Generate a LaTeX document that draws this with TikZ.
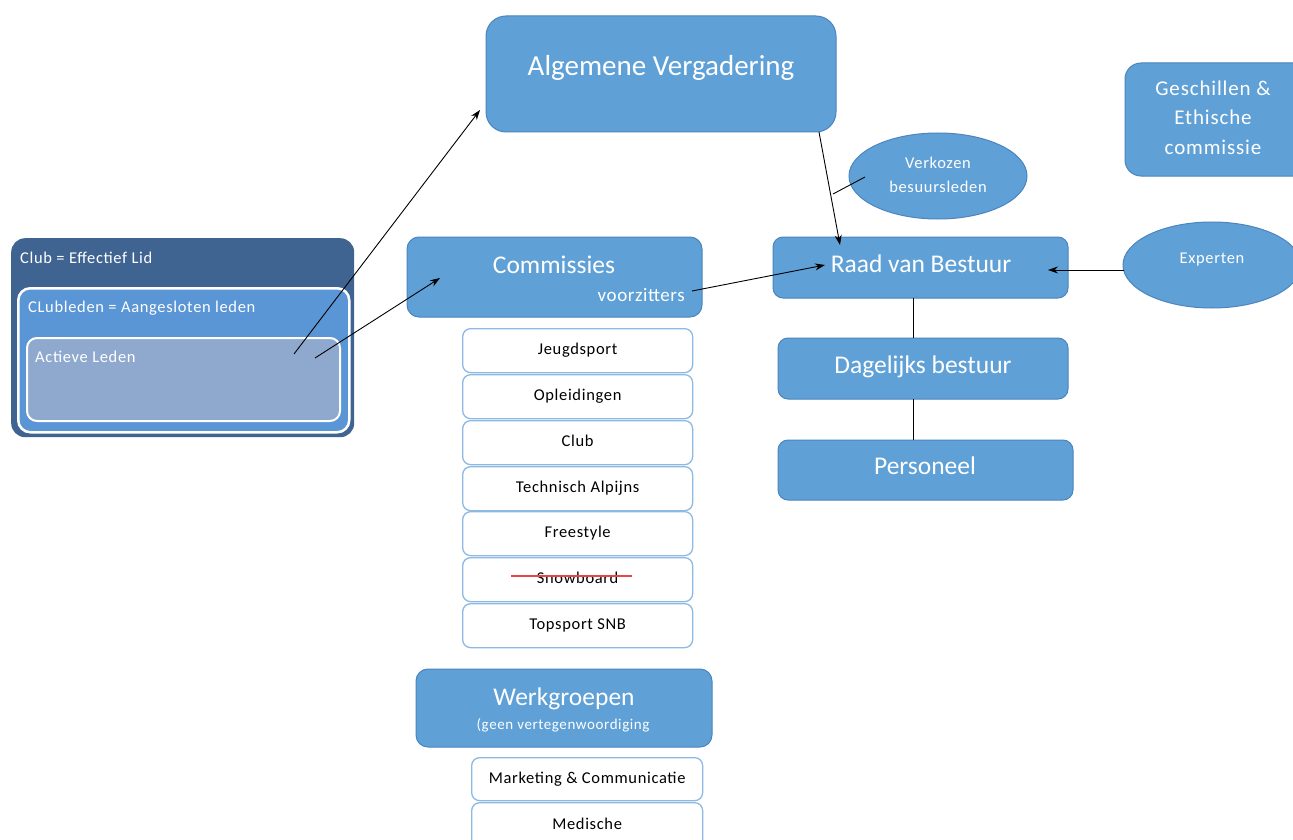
\documentclass[tikz,border=0pt]{standalone}
\usepackage{fontspec}
\setmainfont{Carlito}
\newfontfamily\widefont{Carlito}[LetterSpace=4]
\newfontfamily\midfont{Carlito}[LetterSpace=3]
\usetikzlibrary{arrows.meta,shapes.geometric}
\definecolor{bfill}{HTML}{5FA0D6}
\definecolor{bdraw}{HTML}{4A85BD}
\definecolor{clubdark}{HTML}{406491}
\definecolor{clubmid}{HTML}{5A95D6}
\definecolor{clublight}{HTML}{8FA9CE}
\definecolor{iborder}{HTML}{8DB9E5}
\definecolor{strikered}{HTML}{E8474A}
\begin{document}
\begin{tikzpicture}[x=1pt,y=-1pt,
  box/.style={draw=bdraw, fill=bfill, rounded corners=14, line width=1, anchor=north west, inner sep=0, outer sep=0},
  oval/.style={ellipse, draw=bdraw, fill=bfill, line width=1, inner sep=0, outer sep=0, minimum width=178, minimum height=86},
  smallf/.style={font=\widefont\fontsize{16.5}{19}\selectfont},
  item/.style={draw=iborder, fill=white, rounded corners=8, line width=1.3, anchor=north west, minimum width=230, minimum height=44, inner sep=0, smallf, text=black, text height=11, text depth=3},
  wt/.style={text=white, inner sep=0, anchor=base},
  wtl/.style={text=white, inner sep=0, anchor=base west, smallf},
  arr/.style={-{Stealth[length=10,width=7]}, line width=0.9},
  ln/.style={line width=0.9},
]
\useasboundingbox (0,0) rectangle (1293,840);
\fill[white] (0,0) rectangle (1293,840);

% Club
\node[anchor=north west, fill=clubdark, rounded corners=14, minimum width=343, minimum height=199, inner sep=0] (club) at (11,238) {};
\node[anchor=north west, fill=clubmid, draw=white, line width=2.5, rounded corners=12, minimum width=331, minimum height=144, inner sep=0] (clubleden) at (17,287) {};
\node[anchor=north west, fill=clublight, draw=white, line width=2, rounded corners=10, minimum width=313, minimum height=83, inner sep=0] (actieve) at (26,337) {};
\node[wtl] (clubt) at (20,263) {Club = Effectief Lid};
\node[wtl] (cldt) at (28,312) {CLubleden = Aangesloten leden};
\node[wtl] (actt) at (35,362) {Actieve Leden};

% Algemene Vergadering
\node[box, rounded corners=20, minimum width=350, minimum height=116] (av) at (486,16) {};
\node[wt, font=\fontsize{29}{34}\selectfont] (avt) at (661,76) {Algemene Vergadering};

% Geschillen
\node[box, rounded corners=16, minimum width=200, minimum height=113] (ges) at (1125,63) {};
\node[text=white, inner sep=0, anchor=base, font=\widefont\fontsize{21}{24}\selectfont] (ges1) at (1213,96) {Geschillen \&};
\node[text=white, inner sep=0, anchor=base, font=\widefont\fontsize{21}{24}\selectfont] (ges2) at (1213,125) {Ethische};
\node[text=white, inner sep=0, anchor=base, font=\widefont\fontsize{21}{24}\selectfont] (ges3) at (1213,154) {commissie};

% Ellipses
\node[oval] (verk) at (938,176) {};
\node[wt, smallf] (verk1) at (938,168) {Verkozen};
\node[wt, smallf] (verk2) at (938,192) {besuursleden};
\node[oval] (exp) at (1212,265) {};
\node[wt, smallf] (expt) at (1212,263) {Experten};

% Right column
\node[box, rounded corners=10, minimum width=295, minimum height=61] (raad) at (773,237) {};
\node[wt, font=\fontsize{25.5}{30}\selectfont] (raadt) at (921,272) {Raad van Bestuur};
\node[box, rounded corners=10, minimum width=290, minimum height=61] (dag) at (778,338) {};
\node[wt, font=\fontsize{25.5}{30}\selectfont] (dagt) at (923,373) {Dagelijks bestuur};
\node[box, rounded corners=10, minimum width=295, minimum height=60] (pers) at (778,440) {};
\node[wt, font=\fontsize{25.5}{30}\selectfont] (perst) at (925,474) {Personeel};

% Commissies
\node[box, rounded corners=12, minimum width=295, minimum height=80] (com) at (407,237) {};
\node[wt, font=\fontsize{25.5}{30}\selectfont] (comt) at (554,273) {Commissies};
\node[text=white, inner sep=0, anchor=base east, font=\midfont\fontsize{19}{22}\selectfont] (voor) at (685,301) {voorzitters};

\node[item] (i1) at (462,328) {Jeugdsport};
\node[item] (i2) at (462,374) {Opleidingen};
\node[item] (i3) at (462,420) {Club};
\node[item] (i4) at (462,466) {Technisch Alpijns};
\node[item] (i5) at (462,511) {Freestyle};
\node[item] (i6) at (462,557) {Snowboard};
\node[item] (i7) at (462,603) {Topsport SNB};
\coordinate (s1) at (511,576);
\coordinate (s2) at (632,576);
\draw[strikered, line width=1.6] (s1) -- (s2);

% Werkgroepen
\node[box, rounded corners=12, minimum width=296, minimum height=78] (wg) at (416,669) {};
\node[wt, font=\fontsize{25.5}{30}\selectfont] (wgt) at (564,705) {Werkgroepen};
\node[wt, font=\widefont\fontsize{15}{18}\selectfont] (wgs) at (563,729) {(geen vertegenwoordiging};
\node[item, minimum width=231, minimum height=43] (m1) at (471,757) {Marketing \& Communicatie};
\node[item, minimum width=231, minimum height=46] (m2) at (471,802) {Medische};

% Connectors
\draw[ln] (raad.south -| 913,0) -- (dag.north -| 913,0);
\draw[ln] (dag.south -| 913,0) -- (pers.north -| 913,0);

\coordinate (c1) at (294,354);
\coordinate (avin) at (480,110);
\draw[arr] (c1) -- (avin);
\coordinate (c2) at (315,358);
\coordinate (comin) at (440,278);
\draw[arr] (c2) -- (comin);
\coordinate (vz) at (692,291);
\coordinate (raadin1) at (825,265);
\draw[arr] (vz) -- (raadin1);
\coordinate (avout) at (819,132);
\coordinate (raadin2) at (840,245);
\draw[arr] (avout) -- (raadin2);
\coordinate (vl1) at (833,194);
\coordinate (vl2) at (865,177);
\draw[ln] (vl1) -- (vl2);
\coordinate (expout) at (1124,270);
\coordinate (raadin3) at (1048,270);
\draw[arr] (expout) -- (raadin3);
\end{tikzpicture}
\end{document}
